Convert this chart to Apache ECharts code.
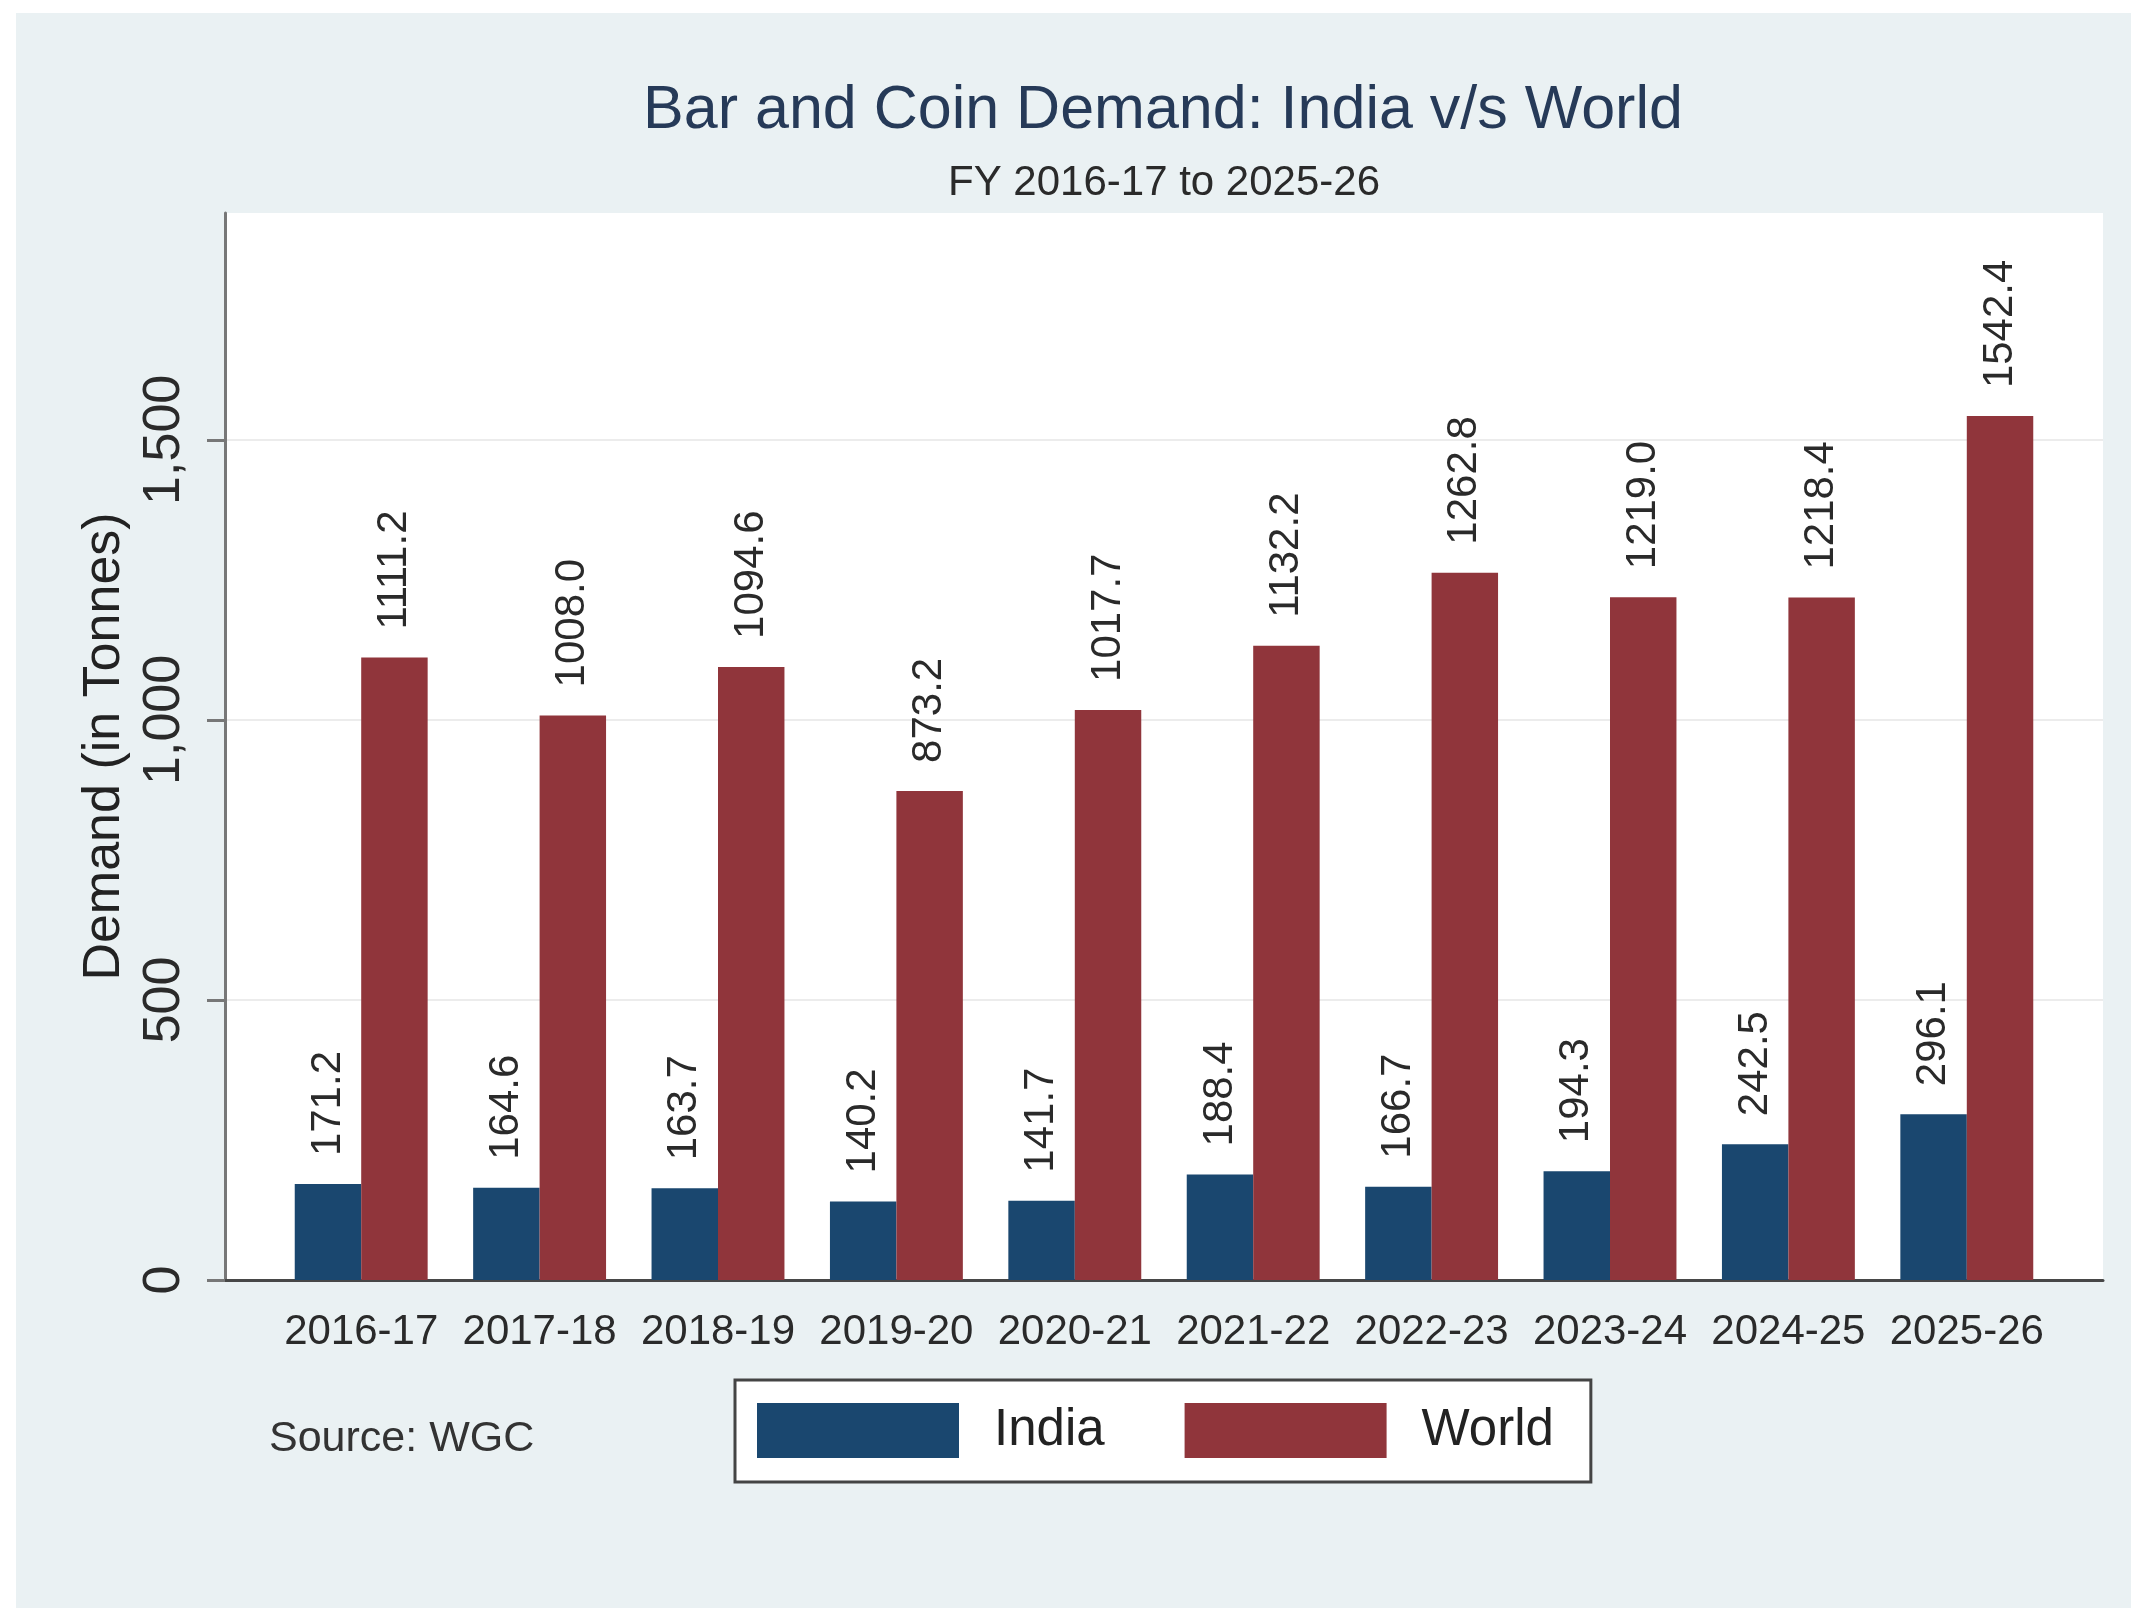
<!DOCTYPE html>
<html>
<head>
<meta charset="utf-8">
<title>Bar and Coin Demand: India v/s World</title>
<script src="https://cdn.jsdelivr.net/npm/echarts@6/dist/echarts.min.js"></script>
<style>
  html, body { margin: 0; padding: 0; background: #ffffff; }
  #panel { position: absolute; left: 16px; top: 13px; right: 0; bottom: 0; background: #eaf1f3; }
  #chart { position: absolute; left: 0; top: 0; width: 2131px; height: 1608px; }
</style>
</head>
<body>
<div id="panel"></div>
<div id="chart"></div>
<script>
// Fiscal years on the category axis
const years = ['2016-17', '2017-18', '2018-19', '2019-20', '2020-21',
               '2021-22', '2022-23', '2023-24', '2024-25', '2025-26'];
// Bar and coin demand, tonnes
const india = [171.2, 164.6, 163.7, 140.2, 141.7, 188.4, 166.7, 194.3, 242.5, 296.1];
const world = [1111.2, 1008.0, 1094.6, 873.2, 1017.7, 1132.2, 1262.8, 1219.0, 1218.4, 1542.4];
// Value axis: ticks every 500, headroom above the tallest bar
const yStep = 500;
const yTop = 1905;

const FONT = '"Liberation Sans", Arial, Helvetica, sans-serif';
const NAVY = '#1a476f';
const MAROON = '#90353b';
const TXT = '#2a2a2a';

const valueLabel = {
  show: true,
  position: 'top',
  distance: 28,
  rotate: 90,
  align: 'left',
  verticalAlign: 'middle',
  fontFamily: FONT,
  fontSize: 42,
  color: TXT,
  formatter: p => p.value.toFixed(1)
};

const chart = echarts.init(document.getElementById('chart'), null, { renderer: 'canvas' });

chart.setOption({
  backgroundColor: 'transparent',
  animation: false,
  textStyle: { fontFamily: FONT },
  title: [
    {
      text: 'Bar and Coin Demand: India v/s World',
      left: 1163, top: 81, padding: 0, textAlign: 'center',
      textStyle: { fontFamily: FONT, fontSize: 61, fontWeight: 'normal', color: '#263a58' }
    },
    {
      text: 'FY 2016-17 to 2025-26',
      left: 1164, top: 162, padding: 0, textAlign: 'center',
      textStyle: { fontFamily: FONT, fontSize: 42, fontWeight: 'normal', color: TXT }
    },
    {
      text: 'Source: WGC',
      left: 269, top: 1418, padding: 0,
      textStyle: { fontFamily: FONT, fontSize: 43, fontWeight: 'normal', color: '#333' }
    }
  ],
  legend: {
    left: 735, top: 1380,
    orient: 'horizontal',
    backgroundColor: '#ffffff',
    borderColor: '#444',
    borderWidth: 3,
    borderRadius: 0,
    padding: [23, 37, 24, 22],
    itemWidth: 202,
    itemHeight: 55,
    itemGap: 80,
    icon: 'rect',
    textStyle: { fontFamily: FONT, fontSize: 51, color: '#222', padding: [0, 0, 0, 30] },
    data: ['India', 'World']
  },
  grid: [
    // plot region: white fill, y axis, gridlines and baseline
    { left: 225, right: 28, top: 213, bottom: 328, show: true, backgroundColor: '#ffffff', borderWidth: 0 },
    // bar region, inset from both ends of the plot region
    { left: 272, right: 75, top: 213, bottom: 328 }
  ],
  xAxis: [
    {
      gridIndex: 0, type: 'value', min: 0, max: 1,
      axisLine: { show: true, lineStyle: { color: '#474747', width: 3 } },
      axisTick: { show: false }, axisLabel: { show: false }, splitLine: { show: false }
    },
    {
      gridIndex: 1, type: 'category', data: years,
      axisLine: { show: false }, axisTick: { show: false },
      axisLabel: { fontFamily: FONT, fontSize: 42, color: TXT, margin: 31, interval: 0 }
    }
  ],
  yAxis: [
    {
      gridIndex: 0, type: 'value', min: 0, max: yTop, interval: yStep,
      name: 'Demand (in Tonnes)', nameLocation: 'middle', nameGap: 86,
      nameTextStyle: { fontFamily: FONT, fontSize: 52, color: '#222' },
      axisLine: { show: true, lineStyle: { color: '#777', width: 3 } },
      axisTick: { show: true, length: 18, lineStyle: { color: '#777', width: 3 } },
      axisLabel: {
        rotate: 90, margin: 34, fontFamily: FONT, fontSize: 52, color: TXT,
        showMaxLabel: false,
        formatter: v => (v % yStep === 0 ? v.toLocaleString('en-US') : '')
      },
      splitLine: {
        show: true,
        lineStyle: { color: ['#ececec', '#ececec', '#ececec', '#ececec', 'rgba(0,0,0,0)'], width: 2 }
      }
    },
    {
      gridIndex: 1, type: 'value', min: 0, max: yTop, show: false,
      splitLine: { show: false }
    }
  ],
  series: [
    {
      name: 'India', type: 'bar', xAxisIndex: 1, yAxisIndex: 1,
      data: india, barGap: '0%', barCategoryGap: '25.5%',
      itemStyle: { color: NAVY },
      label: valueLabel
    },
    {
      name: 'World', type: 'bar', xAxisIndex: 1, yAxisIndex: 1,
      data: world, barGap: '0%', barCategoryGap: '25.5%',
      itemStyle: { color: MAROON },
      label: valueLabel
    }
  ]
});
</script>
</body>
</html>
